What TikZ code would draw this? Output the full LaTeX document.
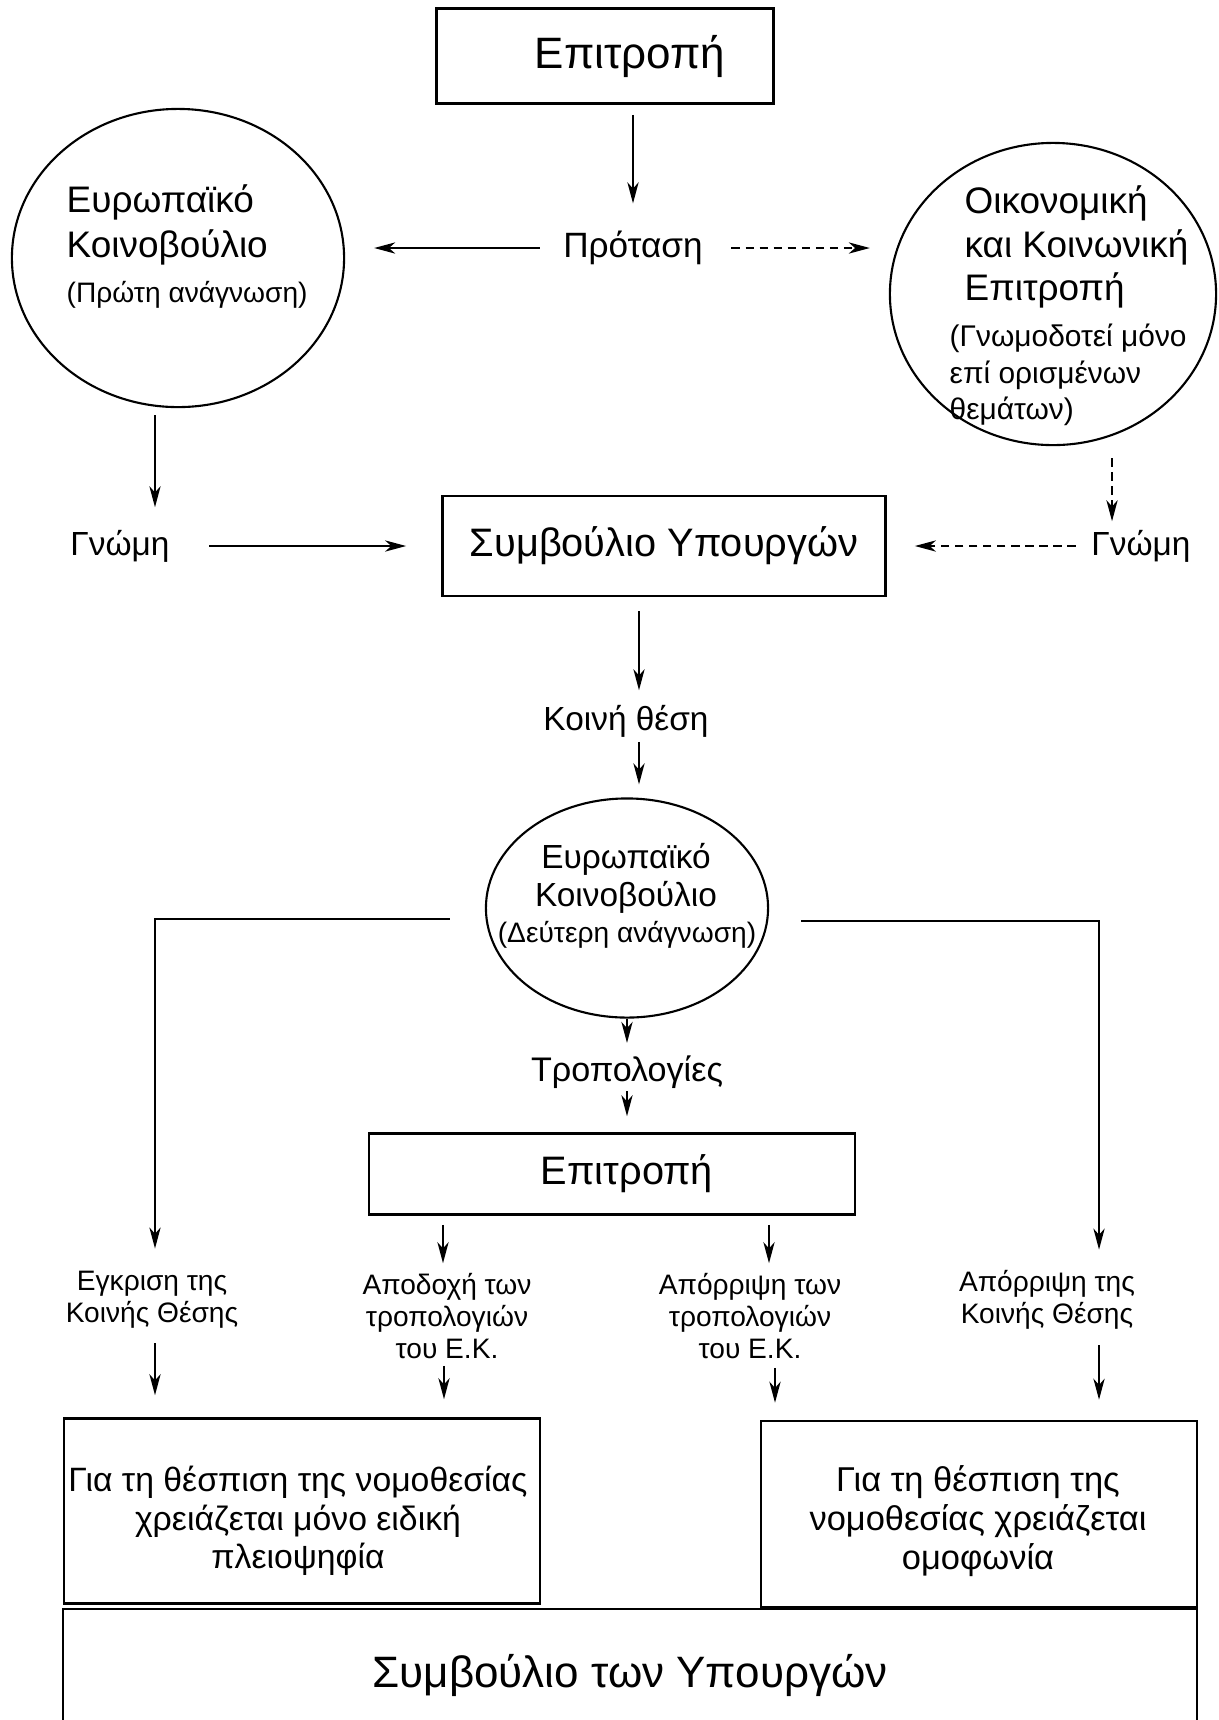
\documentclass[tikz,border=0pt]{standalone}
\usepackage{fontspec}
\setmainfont{Liberation Sans}
\usetikzlibrary{shapes.geometric,arrows.meta}

\tikzset{
  box/.style={draw,rectangle,line width=0.7pt,inner sep=0pt,align=center},
  ell/.style={draw,ellipse,line width=0.6pt,inner sep=0pt},
  txt/.style={inner sep=0pt,align=center},
  arr/.style={line width=0.5pt,-{Stealth[length=6pt,width=3.2pt,inset=1.8pt]}},
  darr/.style={arr,dash pattern=on 2.4pt off 1.6pt},
  lbl/.style={txt,font=\fontsize{8}{9.2}\selectfont},
}

\begin{document}
\begin{tikzpicture}[x=0.01cm,y=-0.01cm]
  \useasboundingbox (0,0) rectangle (1219,1720);
  \clip (0,0) rectangle (1219,1720);
  \fill[white] (0,0) rectangle (1219,1720);

  % first reading
  \node[box,minimum width=3.37cm,minimum height=0.95cm,font=\fontsize{12.5}{15}\selectfont] (komm1) at (605,56) {\hspace*{0.5cm}Επιτροπή};
  \node[txt,font=\fontsize{10}{12}\selectfont] (protasi) at (633,248) {Πρόταση};

  \node[ell,minimum width=3.32cm,minimum height=2.98cm] (ep1) at (178,258) {};
  \node[txt,align=left,anchor=west,font=\fontsize{10.5}{12.7}\selectfont] (ep1t) at (66,225) {Ευρωπαϊκό\\Κοινοβούλιο};
  \node[txt,anchor=west,font=\fontsize{8}{10}\selectfont] (ep1n) at (66,295) {(Πρώτη ανάγνωση)};

  \node[ell,minimum width=3.26cm,minimum height=3.02cm] (oke) at (1053,294) {};
  \node[txt,align=left,anchor=west,font=\fontsize{10.5}{12.4}\selectfont] (oket) at (964,247) {Οικονομική\\και Κοινωνική\\Επιτροπή};
  \node[txt,align=left,anchor=west,font=\fontsize{8.5}{10.3}\selectfont] (oken) at (949,375) {(Γνωμοδοτεί μόνο\\επί ορισμένων\\θεμάτων)};

  \node[txt,font=\fontsize{9.5}{11}\selectfont] (gnomi1) at (120,546) {Γνώμη};
  \node[txt,font=\fontsize{9.5}{11}\selectfont] (gnomi2) at (1141,546) {Γνώμη};
  \node[box,minimum width=4.43cm,minimum height=1.0cm,font=\fontsize{11.3}{13}\selectfont] (sym) at (664,546) {Συμβούλιο Υπουργών};

  \draw[arr,shorten <=0.1cm,shorten >=0.27cm] (komm1.south -| protasi) -- (protasi);
  \draw[arr,shorten <=0.23cm,shorten >=0.29cm] (protasi.west) -- (protasi.west -| ep1.east);
  \draw[darr,shorten <=0.28cm,shorten >=0.19cm] (protasi.east) -- (protasi.east -| oke.west);
  \draw[arr,shorten <=0.07cm,shorten >=0.22cm] ([xshift=-0.23cm]ep1.south) -- ([xshift=-0.23cm]ep1.south |- gnomi1.north);
  \draw[darr,shorten <=0.12cm,shorten >=0.08cm] ([xshift=0.59cm]oke.south) -- ([xshift=0.59cm]oke.south |- gnomi2.north);
  \draw[arr,shorten <=0.39cm,shorten >=0.35cm] (gnomi1.east) -- (gnomi1.east -| sym.west);
  \draw[darr,shorten <=0.15cm,shorten >=0.28cm] (gnomi2.west) -- (gnomi2.west -| sym.east);

  % second reading
  \node[txt,font=\fontsize{9.5}{11}\selectfont] (koini) at (626,721) {Κοινή θέση};
  \node[ell,minimum width=2.82cm,minimum height=2.19cm] (ep2) at (627,908) {};
  \node[txt,font=\fontsize{9.5}{10.8}\selectfont] (ep2t) at (626,878) {Ευρωπαϊκό\\Κοινοβούλιο};
  \node[txt,font=\fontsize{8}{10}\selectfont] (ep2n) at (627,935) {(Δεύτερη ανάγνωση)};
  \node[txt,font=\fontsize{9.7}{11}\selectfont] (tropol) at (627,1072) {Τροπολογίες};
  \node[box,minimum width=4.86cm,minimum height=0.81cm,font=\fontsize{11.3}{13}\selectfont] (komm2) at (612,1174) {\hspace*{0.3cm}Επιτροπή};

  \draw[arr,shorten <=0.14cm,shorten >=0.14cm] ([xshift=0.13cm]koini.north |- sym.south) -- ([xshift=0.13cm]koini.north);
  \draw[arr,shorten <=0.04cm,shorten >=0.13cm] ([xshift=0.13cm]koini.south) -- ([xshift=0.13cm]koini.south |- ep2.north);
  \draw[arr,shorten >=0.12cm] (ep2.south) -- (ep2.south |- tropol.north);
  \draw[arr,shorten <=0.02cm,shorten >=0.16cm] (tropol.south) -- (tropol.south |- komm2.north);

  % outcomes
  \node[lbl] (egkrisi) at (152,1300) {Εγκριση της\\Κοινής Θέσης};
  \node[lbl] (apodochi) at (447,1316) {Αποδοχή των\\τροπολογιών\\του Ε.Κ.};
  \node[lbl] (aporr1) at (750,1316) {Απόρριψη των\\τροπολογιών\\του Ε.Κ.};
  \node[lbl] (aporr2) at (1047,1300) {Απόρριψη της\\Κοινής Θέσης};

  \draw[arr,shorten <=0.35cm,shorten >=0.22cm] ([yshift=-0.11cm]ep2.west) -| ([xshift=0.03cm]egkrisi.north);
  \draw[arr,shorten <=0.32cm,shorten >=0.20cm] ([yshift=-0.13cm]ep2.east) -| ([xshift=0.52cm]aporr2.north);
  \draw[arr,shorten <=0.09cm,shorten >=0.09cm] ([xshift=-0.04cm]apodochi.north |- komm2.south) -- ([xshift=-0.04cm]apodochi.north);
  \draw[arr,shorten <=0.09cm,shorten >=0.09cm] ([xshift=0.19cm]aporr1.north |- komm2.south) -- ([xshift=0.19cm]aporr1.north);

  \node[box,minimum width=4.76cm,minimum height=1.85cm] (lbox) at (302,1511) {};
  \node[txt,font=\fontsize{9.6}{11}\selectfont] (lboxt) at (298,1521) {Για τη θέσπιση της νομοθεσίας\\χρειάζεται μόνο ειδική\\πλειοψηφία};
  \node[box,minimum width=4.36cm,minimum height=1.86cm] (rbox) at (979,1514) {};
  \node[txt,font=\fontsize{9.8}{11.2}\selectfont] (rboxt) at (978,1521) {Για τη θέσπιση της\\νομοθεσίας χρειάζεται\\ομοφωνία};
  \node[box,minimum width=11.33cm,minimum height=1.32cm,font=\fontsize{12.5}{15}\selectfont] (council) at (630,1675) {Συμβούλιο των Υπουργών};

  \draw[arr,shorten <=0.14cm,shorten >=0.22cm] ([xshift=0.03cm]egkrisi.south) -- ([xshift=0.03cm]egkrisi.south |- lbox.north);
  \draw[arr,shorten <=0.06cm,shorten >=0.18cm] ([xshift=-0.03cm]apodochi.south) -- ([xshift=-0.03cm]apodochi.south |- lbox.north);
  \draw[arr,shorten <=0.08cm,shorten >=0.17cm] ([xshift=0.25cm]aporr1.south) -- ([xshift=0.25cm]aporr1.south |- rbox.north);
  \draw[arr,shorten <=0.15cm,shorten >=0.20cm] ([xshift=0.52cm]aporr2.south) -- ([xshift=0.52cm]aporr2.south |- rbox.north);
\end{tikzpicture}
\end{document}
